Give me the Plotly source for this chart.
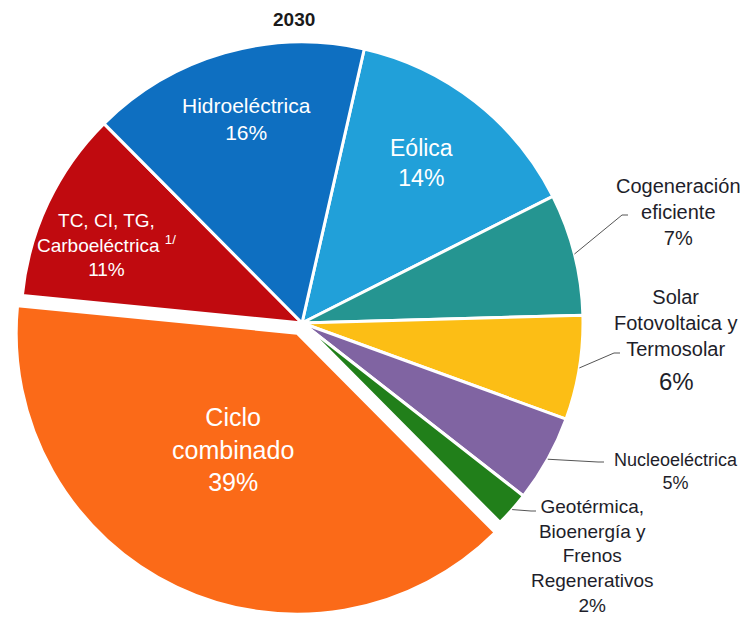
import math
import plotly.graph_objects as go

# Participación en la generación, 2030 (clockwise from the top)
names = ["Eólica", "Cogeneración eficiente", "Solar Fotovoltaica y Termosolar",
         "Nucleoeléctrica", "Geotérmica, Bioenergía y Frenos Regenerativos",
         "Ciclo combinado", "TC, CI, TG, Carboeléctrica", "Hidroeléctrica"]
shares = [14, 7, 6, 5, 2, 39, 11, 16]
colors = ["#21a0d9", "#259591", "#fcbe15", "#8064a2", "#217f1a",
          "#fb6a18", "#c00a0f", "#0e6fc1"]

# how each name is broken into lines on the chart
label_lines = ["Eólica", "Cogeneración<br>eficiente", "Solar<br>Fotovoltaica y<br>Termosolar",
               "Nucleoeléctrica", "Geotérmica,<br>Bioenergía y<br>Frenos<br>Regenerativos",
               "Ciclo<br>combinado", "TC, CI, TG,<br>Carboeléctrica <sup>1/</sup>",
               "Hidroeléctrica"]

# the page body adds an 8px margin, so the figure is drawn 8px smaller
OFF = 8
W, H = 748 - OFF, 617 - OFF
CX, CY, R = 302, 323, 281
PULL = 0.04
ROT = 12.8
half = R * (1 + PULL)


def px(x):
    return (x - OFF) / W


def py(y):
    return 1 - (y - OFF) / H


fig = go.Figure(go.Pie(
    labels=names,
    values=shares,
    sort=False,
    direction="clockwise",
    rotation=ROT,
    pull=[0, 0, 0, 0, 0, PULL, 0, 0],
    marker=dict(colors=colors, line=dict(color="white", width=3)),
    textinfo="none",
    domain=dict(x=[px(CX - half), px(CX + half)],
                y=[py(CY + half), py(CY - half)]),
    hoverinfo="label+percent",
))

FONT = "Liberation Sans, Arial"
txt_color = "#1e1e2a"

# inside labels: centre (pixels) and font size
inside_pos = {0: (421, 163, 23), 5: (233, 449, 25), 6: (106, 245, 19), 7: (246, 119, 21)}
# outside labels: centre, font size, leader elbow
outside_pos = {1: (678, 212, 20, (622, 215), (628, 215)),
               2: (675, 323, 20, (614, 353), (620, 353)),
               3: (676, 471, 18, (598, 462), (604, 462)),
               4: (592, 556, 19, (531, 511), (536, 511))}

annotations = [dict(text="<b>2030</b>", x=px(294), y=py(20), xref="paper", yref="paper",
                    xanchor="center", yanchor="middle", showarrow=False,
                    font=dict(size=19, color="#1a1a1a", family=FONT))]
shapes = []
cum = 0
for i, v in enumerate(shares):
    mid = ROT + (cum + v / 2) * 3.6
    cum += v
    if i in inside_pos:
        lx, ly, fs = inside_pos[i]
        annotations.append(dict(text=f"{label_lines[i]}<br>{v}%", x=px(lx), y=py(ly),
                                xref="paper", yref="paper", showarrow=False,
                                xanchor="center", yanchor="middle", align="center",
                                font=dict(size=fs, color="white", family=FONT)))
        continue
    lx, ly, fs, (ex, ey), (fx, fy) = outside_pos[i]
    a = math.radians(mid)
    ax, ay = CX + R * math.sin(a), CY - R * math.cos(a)
    path = f"M {px(ax)},{py(ay)} L {px(ex)},{py(ey)} L {px(fx)},{py(fy)}"
    shapes.append(dict(type="path", path=path, xref="paper", yref="paper",
                       line=dict(color="#555555", width=1)))
    if i == 2:
        # the percentage of the solar label is set larger
        annotations.append(dict(text=f"{v}%", x=px(676), y=py(381), xref="paper",
                                yref="paper", xanchor="center", yanchor="middle",
                                showarrow=False,
                                font=dict(size=24, color=txt_color, family=FONT)))
        text = label_lines[i]
    else:
        text = f"{label_lines[i]}<br>{v}%"
    annotations.append(dict(text=text, x=px(lx), y=py(ly),
                            xref="paper", yref="paper", showarrow=False,
                            xanchor="center", yanchor="middle", align="center",
                            font=dict(size=fs, color=txt_color, family=FONT)))

fig.update_layout(
    width=W, height=H,
    margin=dict(l=0, r=0, t=0, b=0),
    showlegend=False,
    paper_bgcolor="white",
    font=dict(family=FONT),
    annotations=annotations,
    shapes=shapes,
)

fig.write_html("out.html")
